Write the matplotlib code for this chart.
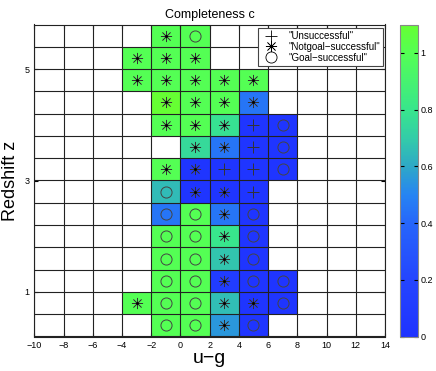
import matplotlib
matplotlib.use("Agg")
import matplotlib.pyplot as plt
import numpy as np
from matplotlib.colors import LinearSegmentedColormap
from matplotlib.lines import Line2D

plt.rcParams["font.family"] = ["Liberation Sans", "DejaVu Sans"]

# bins
ug_edges = np.arange(-10, 15, 2)
z_edges = np.arange(0.2, 5.81, 0.4)

# completeness per cell, rows listed from top (z=5.6) to bottom (z=0.4),
# columns u-g = -9, -7, ..., 13 ; nan = no data
nan = np.nan
completeness_rows = [
    [nan, nan, nan, nan, 1.00, 1.00, nan, nan, nan, nan, nan, nan],
    [nan, nan, nan, 1.00, 1.00, 1.00, nan, nan, nan, nan, nan, nan],
    [nan, nan, nan, 1.00, 1.00, 1.00, 1.00, 1.00, nan, nan, nan, nan],
    [nan, nan, nan, nan, 1.10, 1.00, 1.00, 0.45, nan, nan, nan, nan],
    [nan, nan, nan, nan, 1.00, 1.00, 0.78, 0.03, 0.03, nan, nan, nan],
    [nan, nan, nan, nan, nan, 0.75, 0.45, 0.03, 0.03, nan, nan, nan],
    [nan, nan, nan, nan, 1.00, 0.03, 0.03, 0.03, 0.03, nan, nan, nan],
    [nan, nan, nan, nan, 0.65, 0.03, 0.03, 0.03, nan, nan, nan, nan],
    [nan, nan, nan, nan, 0.45, 1.00, 0.45, 0.03, nan, nan, nan, nan],
    [nan, nan, nan, nan, 1.00, 1.00, 0.80, 0.03, nan, nan, nan, nan],
    [nan, nan, nan, nan, 1.00, 1.00, 0.68, 0.03, nan, nan, nan, nan],
    [nan, nan, nan, nan, 1.00, 1.00, 0.10, 0.03, 0.03, nan, nan, nan],
    [nan, nan, nan, 1.00, 1.00, 1.00, 0.66, 0.03, 0.03, nan, nan, nan],
    [nan, nan, nan, nan, 1.00, 1.00, 0.55, 0.03, nan, nan, nan, nan],
]

# outcome per cell: + unsuccessful, * notgoal-successful, o goal-successful
outcome_rows = [
    "    *o      ",
    "   ***      ",
    "   *****    ",
    "    ****    ",
    "    ***+o   ",
    "     **+o   ",
    "    **++o   ",
    "    o**+    ",
    "    oo*o    ",
    "    oo*o    ",
    "    oo*o    ",
    "    oo*oo   ",
    "   *oo**o   ",
    "    oo*o    ",
]

legend_labels = ['"Unsuccessful"', '"Notgoal\u2212successful"', '"Goal\u2212successful"']
cbar_ticks = [0, 0.2, 0.4, 0.6, 0.8, 1]

cmap = LinearSegmentedColormap.from_list(
    "compl",
    [
        (0.00, (0.12, 0.20, 1.00)),
        (0.20 / 1.1, (0.14, 0.27, 1.00)),
        (0.40 / 1.1, (0.15, 0.40, 0.98)),
        (0.50 / 1.1, (0.15, 0.52, 0.95)),
        (0.60 / 1.1, (0.18, 0.66, 0.78)),
        (0.70 / 1.1, (0.20, 0.80, 0.66)),
        (0.80 / 1.1, (0.22, 0.90, 0.55)),
        (1.00 / 1.1, (0.33, 1.00, 0.33)),
        (1.00, (0.40, 1.00, 0.20)),
    ],
)

C = np.array(completeness_rows)[::-1]
marks = outcome_rows[::-1]
ug_centers = (ug_edges[:-1] + ug_edges[1:]) / 2
z_centers = (z_edges[:-1] + z_edges[1:]) / 2

fig = plt.figure(figsize=(4.36, 3.71), dpi=100)
ax = fig.add_axes([34.3 / 436, 34.5 / 371, 350.7 / 436, 312 / 371])

mesh = ax.pcolormesh(ug_edges, z_edges, np.ma.masked_invalid(C), cmap=cmap,
                     vmin=0, vmax=1.1, edgecolors="none")

for x in ug_edges:
    ax.axvline(x, color="#222222", lw=0.8, zorder=2)
for z in z_edges:
    ax.axhline(z, color="#222222", lw=0.8, zorder=2)

styles = {
    "+": dict(marker="+", ms=9, mew=0.7, color="#333333"),
    "*": dict(marker=(8, 2, 0), ms=8, mew=0.5, color="#333333"),
    "o": dict(marker="o", ms=8, mew=0.7, mfc="none", mec="#444444"),
}
for sym, st in styles.items():
    xs, zs = [], []
    for i, row in enumerate(marks):
        for j, ch in enumerate(row):
            if ch == sym:
                xs.append(ug_centers[j])
                zs.append(z_centers[i])
    ax.plot(xs, zs, ls="none", zorder=3, **st)
    if sym == "*":
        ax.plot(xs, zs, ls="none", marker="o", ms=2, mew=0, color="black", zorder=4)

ax.set_xlim(ug_edges[0], ug_edges[-1])
ax.set_ylim(z_edges[0], z_edges[-1])
ax.set_xticks(ug_edges)
ax.set_yticks([1, 3, 5])
ax.tick_params(direction="in", labelsize=6.5, length=3, top=True, right=True)
for s in ax.spines.values():
    s.set_linewidth(0.8)
    s.set_color("#222222")

ax.set_title("Completeness c", fontsize=9, pad=5)
ax.set_xlabel("u\u2212g", fontsize=14, labelpad=0)
ax.set_ylabel("Redshift z", fontsize=13, labelpad=4)

handles = [
    Line2D([], [], ls="none", marker="+", ms=9, mew=0.6, color="black"),
    Line2D([], [], ls="none", marker=(8, 2, 0), ms=8, mew=0.5, color="black"),
    Line2D([], [], ls="none", marker="o", ms=8, mew=0.6, mfc="none", mec="black"),
]
leg = ax.legend(handles, legend_labels, loc="upper right", fontsize=7,
                fancybox=False, framealpha=1, edgecolor="#444444",
                borderpad=0.3, labelspacing=0.1, handletextpad=0.8,
                handlelength=2.0, borderaxespad=0.2,
                bbox_to_anchor=(1.0, 0.995))
leg.get_frame().set_linewidth(0.8)
leg.set_zorder(5)

cax = fig.add_axes([400 / 436, 34.5 / 371, 18 / 436, 312 / 371])
cb = fig.colorbar(mesh, cax=cax)
cb.set_ticks(cbar_ticks)
cb.set_ticklabels(["0", "0.2", "0.4", "0.6", "0.8", "1"])
cax.tick_params(direction="in", labelsize=6.5, length=3, pad=2, left=True, right=True)
cb.outline.set_edgecolor("#888888")

fig.savefig("out.png", dpi=100)
